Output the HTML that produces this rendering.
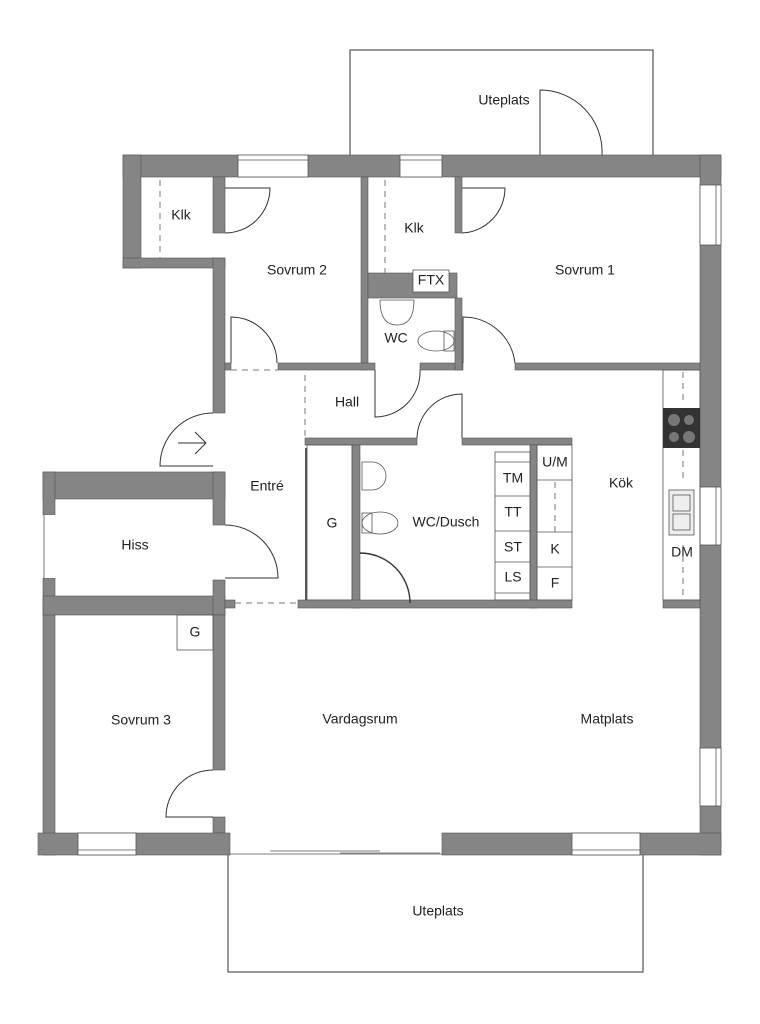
<!DOCTYPE html>
<html><head><meta charset="utf-8"><style>
html,body{margin:0;padding:0;background:#fff}
svg{display:block}
text{font-family:"Liberation Sans",sans-serif;font-size:14px;fill:#222;text-anchor:middle;dominant-baseline:middle}
</style></head><body>
<svg width="760" height="1024" viewBox="0 0 760 1024">
<g fill="none" stroke="#333" stroke-width="1">
<!-- uteplats -->
<path d="M350 155 V50 H653 V155"/>
<path d="M228 855 V972 H643 V855"/>
</g>
<g fill="#858585" stroke="#555" stroke-width="0.6">
<!-- top walls -->
<rect x="123" y="155" width="598" height="22"/>
<rect x="123" y="155" width="18" height="113"/>
<rect x="123" y="258" width="102" height="10"/>
<rect x="213" y="258" width="12" height="155"/>
<rect x="213" y="177" width="12" height="56"/>
<!-- right outer wall -->
<rect x="700" y="155" width="21" height="700"/>
<!-- sovrum2 walls -->
<rect x="361" y="177" width="7" height="193"/>
<rect x="225" y="363" width="6" height="7"/>
<rect x="278" y="363" width="97" height="7"/>
<rect x="420" y="363" width="43" height="7"/>
<rect x="368" y="273" width="89" height="25"/>
<rect x="455" y="177" width="7" height="56"/>
<rect x="455" y="298" width="7" height="72"/>
<rect x="515" y="363" width="185" height="7"/>
<!-- Hiss -->
<rect x="43" y="472" width="182" height="27"/>
<rect x="213" y="472" width="12" height="53"/>
<rect x="43" y="472" width="12" height="43"/>
<rect x="43" y="578" width="12" height="277"/>
<rect x="43" y="596" width="182" height="19"/>
<rect x="213" y="580" width="12" height="35"/>
<rect x="213" y="615" width="12" height="155"/>
<rect x="213" y="817" width="12" height="16"/>
<rect x="38" y="833" width="192" height="22"/>
<rect x="442" y="833" width="279" height="22"/>
<!-- bathroom block -->
<rect x="305" y="438" width="112" height="7"/>
<rect x="462" y="438" width="110" height="7"/>
<rect x="352" y="445" width="8" height="163"/>
<rect x="530" y="445" width="7" height="163"/>
<rect x="298" y="600" width="274" height="8"/>
<rect x="225" y="600" width="10" height="8"/>
<rect x="663" y="600" width="37" height="8"/>
</g>
<!-- windows -->
<g fill="#fff" stroke="#555" stroke-width="0.8">
<rect x="238" y="155" width="70" height="22"/><line x1="238" y1="160" x2="308" y2="160"/>
<rect x="400" y="155" width="42" height="22"/><line x1="400" y1="160" x2="442" y2="160"/>
<rect x="700" y="185" width="21" height="60"/><line x1="716" y1="185" x2="716" y2="245"/>
<rect x="700" y="487" width="21" height="58"/><line x1="716" y1="487" x2="716" y2="545"/>
<rect x="700" y="748" width="21" height="58"/><line x1="716" y1="748" x2="716" y2="806"/>
<rect x="78" y="833" width="58" height="22"/><line x1="78" y1="850" x2="136" y2="850"/>
<rect x="572" y="833" width="68" height="22"/><line x1="572" y1="850" x2="640" y2="850"/>
<rect x="43" y="515" width="12" height="63" stroke="none"/>
<line x1="44" y1="515" x2="44" y2="578"/>
</g>
<!-- bottom glass door -->
<g stroke="#555" stroke-width="0.8" fill="none">
<line x1="230" y1="854" x2="442" y2="854"/>
<line x1="270" y1="851" x2="380" y2="851"/>
<line x1="340" y1="853" x2="440" y2="853"/>
</g>
<!-- doors -->
<g fill="none" stroke="#333" stroke-width="1">
<path d="M540 155 V90 A62 62 0 0 1 602 155"/>
<path d="M225 188 H270 A45 45 0 0 1 225 233"/>
<path d="M462 188 H505 A45 45 0 0 1 462 233"/>
<path d="M231 363 V317 A46 46 0 0 1 277 363"/>
<path d="M463 363 V317 A52 52 0 0 1 515 363"/>
<path d="M375 370 V417 A45 45 0 0 0 420 370"/>
<path d="M462 438 V394 A45 45 0 0 0 417 438"/>
<path d="M213 413 A53 53 0 0 0 160 466 H213"/>
<path d="M178 443 H205 M195 432 L206 443 L195 454"/>
<path d="M225 525 A53 53 0 0 1 278 578 H225"/>
<path d="M213 770 A47 47 0 0 0 166 817 H213"/>
<path d="M360 553 A50 50 0 0 1 410 603" stroke-width="1.4"/>
</g>
<!-- dashed lines -->
<g stroke="#777" stroke-width="1" stroke-dasharray="6,5" fill="none">
<line x1="160" y1="180" x2="160" y2="258"/>
<line x1="385" y1="180" x2="385" y2="273"/>
<line x1="231" y1="370" x2="278" y2="370"/>
<line x1="305" y1="375" x2="305" y2="438"/>
<line x1="235" y1="603" x2="298" y2="603"/>
<line x1="555" y1="482" x2="555" y2="535"/>
<line x1="683" y1="372" x2="683" y2="405"/>
<line x1="683" y1="450" x2="683" y2="478"/>
<line x1="683" y1="545" x2="683" y2="600"/>
</g>
<!-- fixtures -->
<g fill="none" stroke="#555" stroke-width="0.8">
<rect x="413" y="270" width="36" height="22" fill="#fff"/>
<rect x="177" y="615" width="36" height="35"/>
<rect x="495" y="452" width="35" height="148"/>
<line x1="495" y1="462" x2="530" y2="462"/><line x1="495" y1="496" x2="530" y2="496"/>
<line x1="495" y1="531" x2="530" y2="531"/><line x1="495" y1="562" x2="530" y2="562"/>
<line x1="495" y1="593" x2="530" y2="593"/>
<rect x="537" y="445" width="35" height="155"/>
<line x1="537" y1="480" x2="572" y2="480"/><line x1="537" y1="532" x2="572" y2="532"/>
<line x1="537" y1="567" x2="572" y2="567"/>
<rect x="663" y="370" width="37" height="230"/>
<rect x="307" y="445" width="45" height="155"/>
<line x1="306" y1="448" x2="306" y2="600" stroke-width="2"/>
<path d="M380 300 Q380 325 397 325 Q414 325 414 300 Z"/>
<ellipse cx="436" cy="341" rx="18" ry="10"/><rect x="444" y="331" width="10" height="20"/>
<path d="M362 462 H372 A14 14 0 0 1 372 490 H362 Z"/>
<ellipse cx="380" cy="523" rx="18" ry="11"/><rect x="362" y="513" width="10" height="20"/>
<rect x="669" y="490" width="25" height="45" fill="#eee"/>
<rect x="673" y="495" width="17" height="16"/><rect x="673" y="514" width="17" height="16"/>
</g>
<rect x="663" y="408" width="37" height="40" fill="#333"/>
<g fill="#777"><circle cx="674" cy="420" r="6"/><circle cx="689" cy="420" r="5"/><circle cx="674" cy="437" r="5"/><circle cx="689" cy="437" r="6"/></g>
<!-- labels -->
<text x="504" y="101">Uteplats</text>
<text x="181" y="216">Klk</text>
<text x="414" y="229">Klk</text>
<text x="297" y="271">Sovrum 2</text>
<text x="585" y="271">Sovrum 1</text>
<text x="431" y="281">FTX</text>
<text x="396" y="339">WC</text>
<text x="347" y="403">Hall</text>
<text x="267" y="487">Entré</text>
<text x="621" y="484">Kök</text>
<text x="555" y="463">U/M</text>
<text x="513" y="479">TM</text>
<text x="513" y="513">TT</text>
<text x="513" y="548">ST</text>
<text x="513" y="578">LS</text>
<text x="555" y="550">K</text>
<text x="555" y="584">F</text>
<text x="332" y="524">G</text>
<text x="446" y="523">WC/Dusch</text>
<text x="682" y="553">DM</text>
<text x="135" y="546">Hiss</text>
<text x="195" y="633">G</text>
<text x="141" y="721">Sovrum 3</text>
<text x="360" y="720">Vardagsrum</text>
<text x="607" y="720">Matplats</text>
<text x="438" y="912">Uteplats</text>
</svg>
</body></html>
